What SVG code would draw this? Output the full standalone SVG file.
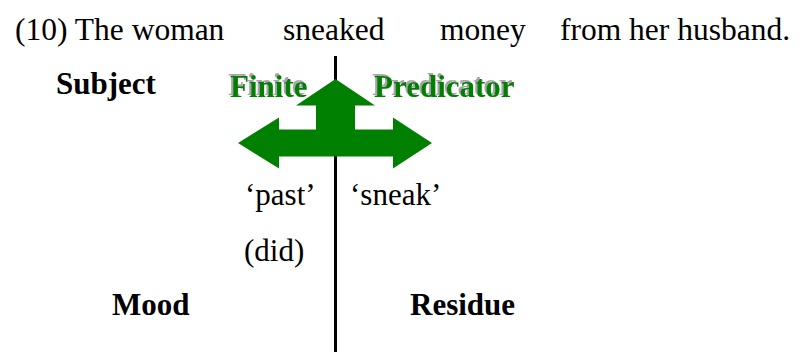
<svg xmlns="http://www.w3.org/2000/svg" width="811" height="352" viewBox="0 0 811 352">
  <defs>
    <!-- grey drop shadow, up and to the left of the glyphs -->
    <filter id="shadow" x="-10%" y="-30%" width="120%" height="160%">
      <feFlood flood-color="#a6a6a6" result="c"/>
      <feComposite in="c" in2="SourceAlpha" operator="in" result="s"/>
      <feOffset in="s" dx="-2" dy="-2" result="o"/>
      <feMerge>
        <feMergeNode in="o"/>
        <feMergeNode in="SourceGraphic"/>
      </feMerge>
    </filter>
  </defs>
  <style>
    text { font-family: "Liberation Serif", "Times New Roman", serif; fill: #000; }
    .t { font-size: 31.5px; }
    .r { font-size: 31px; }
    .b { font-size: 31px; font-weight: bold; }
    .g { font-size: 31px; font-weight: bold; fill: #008000; filter: url(#shadow); }
  </style>
  <rect width="811" height="352" fill="#fff"/>

  <!-- example sentence -->
  <g id="sentence">
    <text class="t" x="15" y="40">(10) The woman</text>
    <text class="t" x="283" y="40">sneaked</text>
    <text class="t" x="440" y="40">money</text>
    <text class="t" x="560" y="40">from her husband.</text>
  </g>

  <!-- Mood / Residue boundary -->
  <g id="connectors">
    <line x1="335.5" y1="56" x2="335.5" y2="352" stroke="#000" stroke-width="3"/>
  </g>

  <!-- three-way arrow -->
  <g id="arrow">
    <path d="M238,143 L279,117.5 L279,129.5 L316,129.5 L316,105.5 L296,105.5 L335.5,79 L375,105.5 L355,105.5 L355,129.5 L393,129.5 L393,117.5 L432,143 L393,168.5 L393,156.5 L279,156.5 L279,168.5 Z" fill="#008000"/>
  </g>

  <g id="subject">
    <text class="b" x="56" y="94">Subject</text>
  </g>

  <g id="finite">
    <text class="g" x="230" y="97">Finite</text>
  </g>

  <g id="predicator">
    <text class="g" x="374" y="97">Predicator</text>
  </g>

  <g id="past">
    <text class="r" x="245" y="205">‘past’</text>
    <text class="r" x="244" y="261">(did)</text>
  </g>

  <g id="sneak">
    <text class="r" x="350" y="205">‘sneak’</text>
  </g>

  <g id="mood">
    <text class="b" x="112" y="315">Mood</text>
  </g>

  <g id="residue">
    <text class="b" x="410" y="315">Residue</text>
  </g>
</svg>
